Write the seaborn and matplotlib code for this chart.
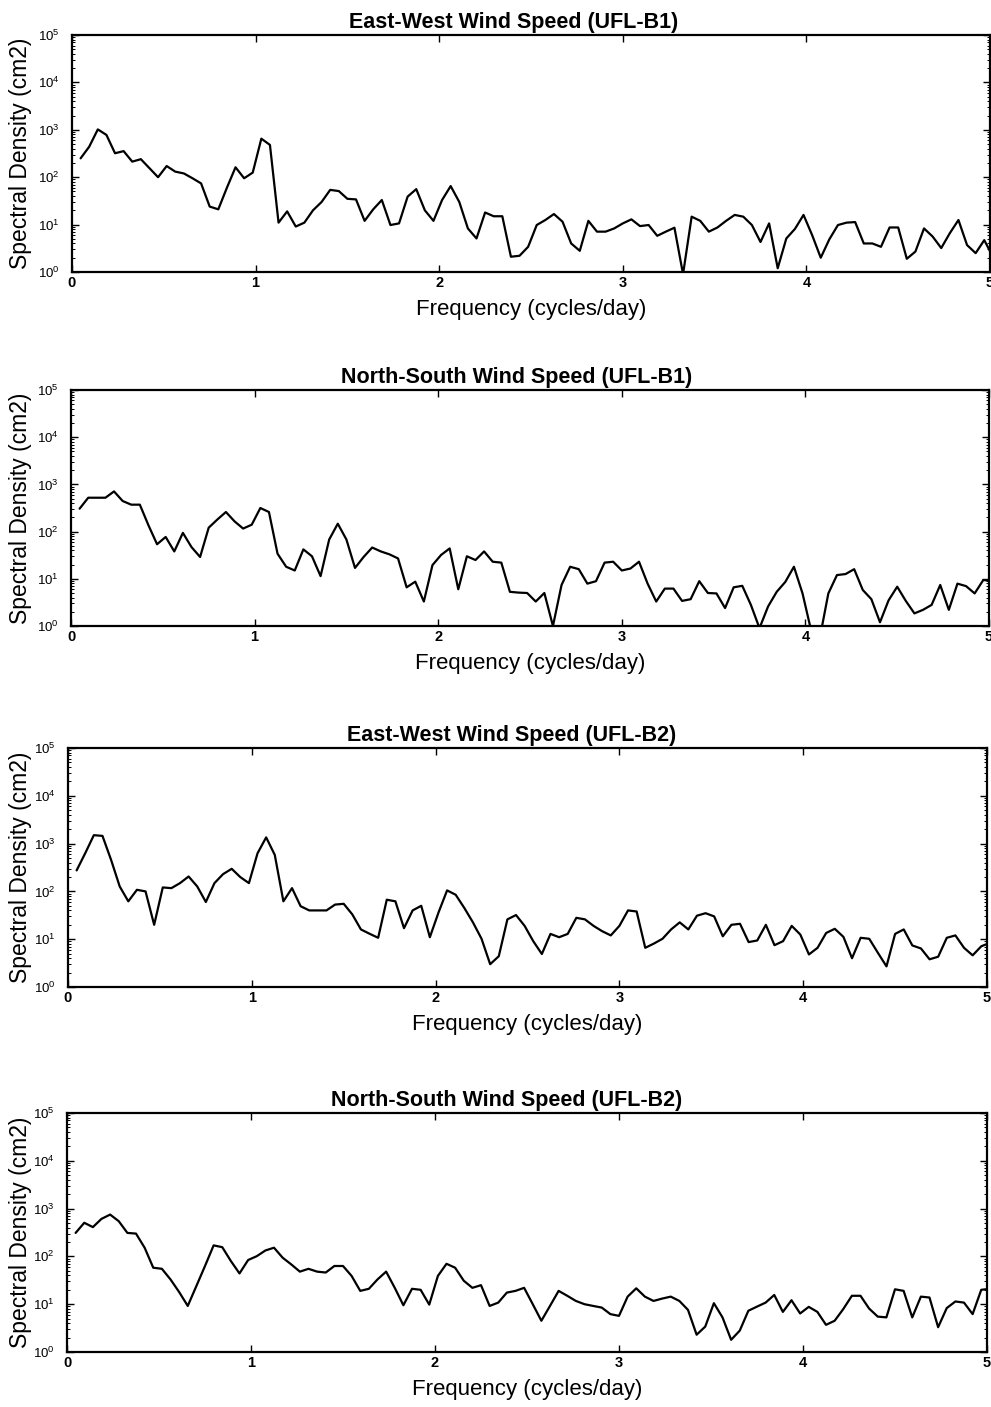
import numpy as np
import pandas as pd
import matplotlib
matplotlib.use("Agg")
import matplotlib.pyplot as plt
import seaborn as sns
from matplotlib.ticker import LogLocator, FixedLocator, NullFormatter

# Panel titles
titles = [
    "East-West Wind Speed (UFL-B1)",
    "North-South Wind Speed (UFL-B1)",
    "East-West Wind Speed (UFL-B2)",
    "North-South Wind Speed (UFL-B2)",
]

# Frequency grid of the spectral estimates (cycles/day)
df_step = 3 / 64
freq = df_step * np.arange(1, 108)

# Spectral density estimates (cm2), one value per frequency bin
ew_b1 = [250, 440, 1020, 780, 320, 355, 213, 240, 155, 100,
         172, 131, 120, 95, 74, 24, 21, 60, 162, 95,
         125, 650, 480, 11, 19, 9.1, 11, 20, 30, 54,
         51, 35, 34, 12, 21, 33, 9.8, 10.6, 39, 56,
         20, 12, 33, 65, 30, 8.3, 5.1, 18, 15, 15,
         2.1, 2.2, 3.4, 9.8, 12.5, 16.7, 11.5, 4.0, 2.8, 12,
         7.1, 7.1, 8.3, 10.6, 12.9, 9.3, 9.8, 5.8, 7.1, 8.6,
         0.9, 14.7, 12, 7.1, 8.7, 12, 16, 14.7, 9.8, 4.3,
         10.6, 1.2, 5.1, 8.1, 16, 6.0, 2.0, 4.9, 9.8, 11,
         11.3, 4.0, 4.0, 3.4, 8.7, 8.7, 1.9, 2.7, 8.3, 5.6,
         3.2, 6.6, 12.5, 3.7, 2.5, 4.7, 2.1]

ns_b1 = [306, 522, 522, 522, 710, 445, 372, 372, 136, 54,
         77, 38, 94, 47, 29, 121, 180, 260, 165, 116,
         140, 316, 260, 34, 18, 15, 42, 30, 11.4, 68,
         147, 68, 17, 29, 46, 38, 33, 27, 6.6, 8.7,
         3.3, 19.5, 32, 44, 6.0, 30, 25, 38, 23, 22,
         5.3, 5.1, 5.0, 3.3, 5.0, 1.0, 7.4, 18, 16, 7.9,
         8.9, 22, 23, 15, 16.5, 23, 7.9, 3.3, 6.2, 6.2,
         3.4, 3.7, 8.9, 5.0, 4.9, 2.4, 6.6, 7.1, 2.8, 0.9,
         2.6, 5.3, 8.6, 18, 4.9, 0.8, 0.55, 4.9, 12, 12.6,
         16, 5.8, 3.7, 1.2, 3.5, 6.8, 3.4, 1.85, 2.2, 2.8,
         7.4, 2.2, 7.9, 7.0, 4.9, 9.4, 9.1]

ew_b2 = [275, 630, 1500, 1450, 457, 127, 62, 108, 100, 20,
         121, 117, 149, 205, 127, 60, 149, 230, 297, 199,
         149, 628, 1350, 580, 62, 117, 49, 40, 40, 40,
         53, 55, 33, 16, 13, 10.7, 67, 62, 17, 40,
         50, 11, 36, 105, 85, 45, 22.5, 10.2, 3.0, 4.4,
         26, 32, 19, 9.1, 4.9, 12.9, 11, 12.9, 28, 26,
         19, 14.7, 12, 19, 40, 38, 6.6, 8.1, 10.2, 16,
         22.5, 16, 31, 35, 30, 11.5, 20, 21, 8.7, 9.4,
         20, 7.5, 9.1, 19, 12.5, 4.8, 6.6, 13.5, 16.5, 11.2,
         4.0, 10.7, 10.2, 5.2, 2.7, 12.9, 16, 7.4, 6.4, 3.8,
         4.3, 10.7, 12, 6.6, 4.6, 7.1, 8.4]

ns_b2 = [310, 505, 410, 610, 750, 545, 310, 300, 152, 58,
         55, 33, 18, 9.2, 24, 63, 170, 156, 80, 44,
         84, 101, 133, 152, 94, 68, 48, 55, 48, 46,
         63, 63, 39, 19, 21, 33, 48, 22, 9.5, 21,
         20, 9.8, 39, 70, 58, 31, 22, 25, 9.2, 10.8,
         17.5, 19, 22, 10, 4.5, 9.2, 19, 15, 11.7, 10,
         9.2, 8.5, 6.2, 5.7, 14.4, 21.5, 14.4, 11.7, 13.1, 14.4,
         11.7, 7.6, 2.3, 3.4, 10.5, 5.3, 1.8, 2.8, 7.3, 8.9,
         10.8, 15.6, 6.9, 12.1, 6.4, 8.8, 6.9, 3.7, 4.5, 7.9,
         15, 15, 8.1, 5.5, 5.3, 20.5, 19, 5.3, 14.4, 13.8,
         3.3, 8.3, 11.4, 10.8, 6.2, 20, 21]

series = [ew_b1, ns_b1, ew_b2, ns_b2]

x_ticks = [0, 1, 2, 3, 4, 5]
x_tick_labels = ["0", "1", "2", "3", "4", "5"]
x_label = "Frequency (cycles/day)"
y_label = "Spectral Density (cm2)"

sns.set_style("ticks")
plt.rcParams["font.family"] = ["Liberation Sans", "DejaVu Sans"]
plt.rcParams["mathtext.fontset"] = "custom"
plt.rcParams["mathtext.rm"] = "Liberation Sans"
plt.rcParams["text.color"] = "black"
plt.rcParams["axes.labelcolor"] = "black"
plt.rcParams["xtick.color"] = "black"
plt.rcParams["ytick.color"] = "black"

W, H = 991, 1407
fig = plt.figure(figsize=(W / 100, H / 100), dpi=100)

# axes boxes in pixels: left, top, right, bottom
boxes = [(72, 35, 990, 272), (71, 390, 989, 626),
         (68, 748, 987, 987), (67, 1113, 987, 1352)]
# horizontal centre of each title, in pixels
title_cx = [514, 517, 512, 507]

for title, vals, (l, t, r, b), cx in zip(titles, series, boxes, title_cx):
    w, h = r - l, b - t
    ax = fig.add_axes([l / W, 1 - b / H, w / W, h / H])
    data = pd.DataFrame({"freq": freq, "psd": vals})
    sns.lineplot(data=data, x="freq", y="psd", ax=ax, color="black",
                 linewidth=1.6, estimator=None, sort=False)
    ax.set_yscale("log")
    ax.set_xlim(0, 5)
    ax.set_ylim(1, 1e5)

    ax.xaxis.set_major_locator(FixedLocator(x_ticks))
    ax.set_xticklabels(x_tick_labels, fontsize=10.5, fontweight="bold")
    ax.yaxis.set_major_locator(LogLocator(base=10, numticks=10))
    ax.yaxis.set_minor_locator(LogLocator(base=10, subs=np.arange(2, 10), numticks=10))
    ax.yaxis.set_minor_formatter(NullFormatter())

    ax.tick_params(axis="both", which="major", direction="in", length=5,
                   width=1.0, top=True, right=True)
    ax.tick_params(axis="y", which="minor", direction="in", length=2.5,
                   width=0.7, right=True)
    ax.tick_params(axis="y", which="major", labelsize=9.5, pad=9)
    ax.tick_params(axis="x", which="major", pad=3)

    for sp in ax.spines.values():
        sp.set_visible(True)
        sp.set_linewidth(1.6)
        sp.set_color("black")

    ax.set_title(title, fontsize=15.5, fontweight="bold",
                 x=(cx - l) / w, pad=5)
    ax.set_xlabel(x_label, fontsize=16)
    ax.xaxis.set_label_coords(0.5, -27 / h)
    ax.set_ylabel(y_label, fontsize=16.5)
    ax.yaxis.set_label_coords(-(l - 32) / w, 0.5)

fig.savefig("out.png", dpi=100, facecolor="white")
